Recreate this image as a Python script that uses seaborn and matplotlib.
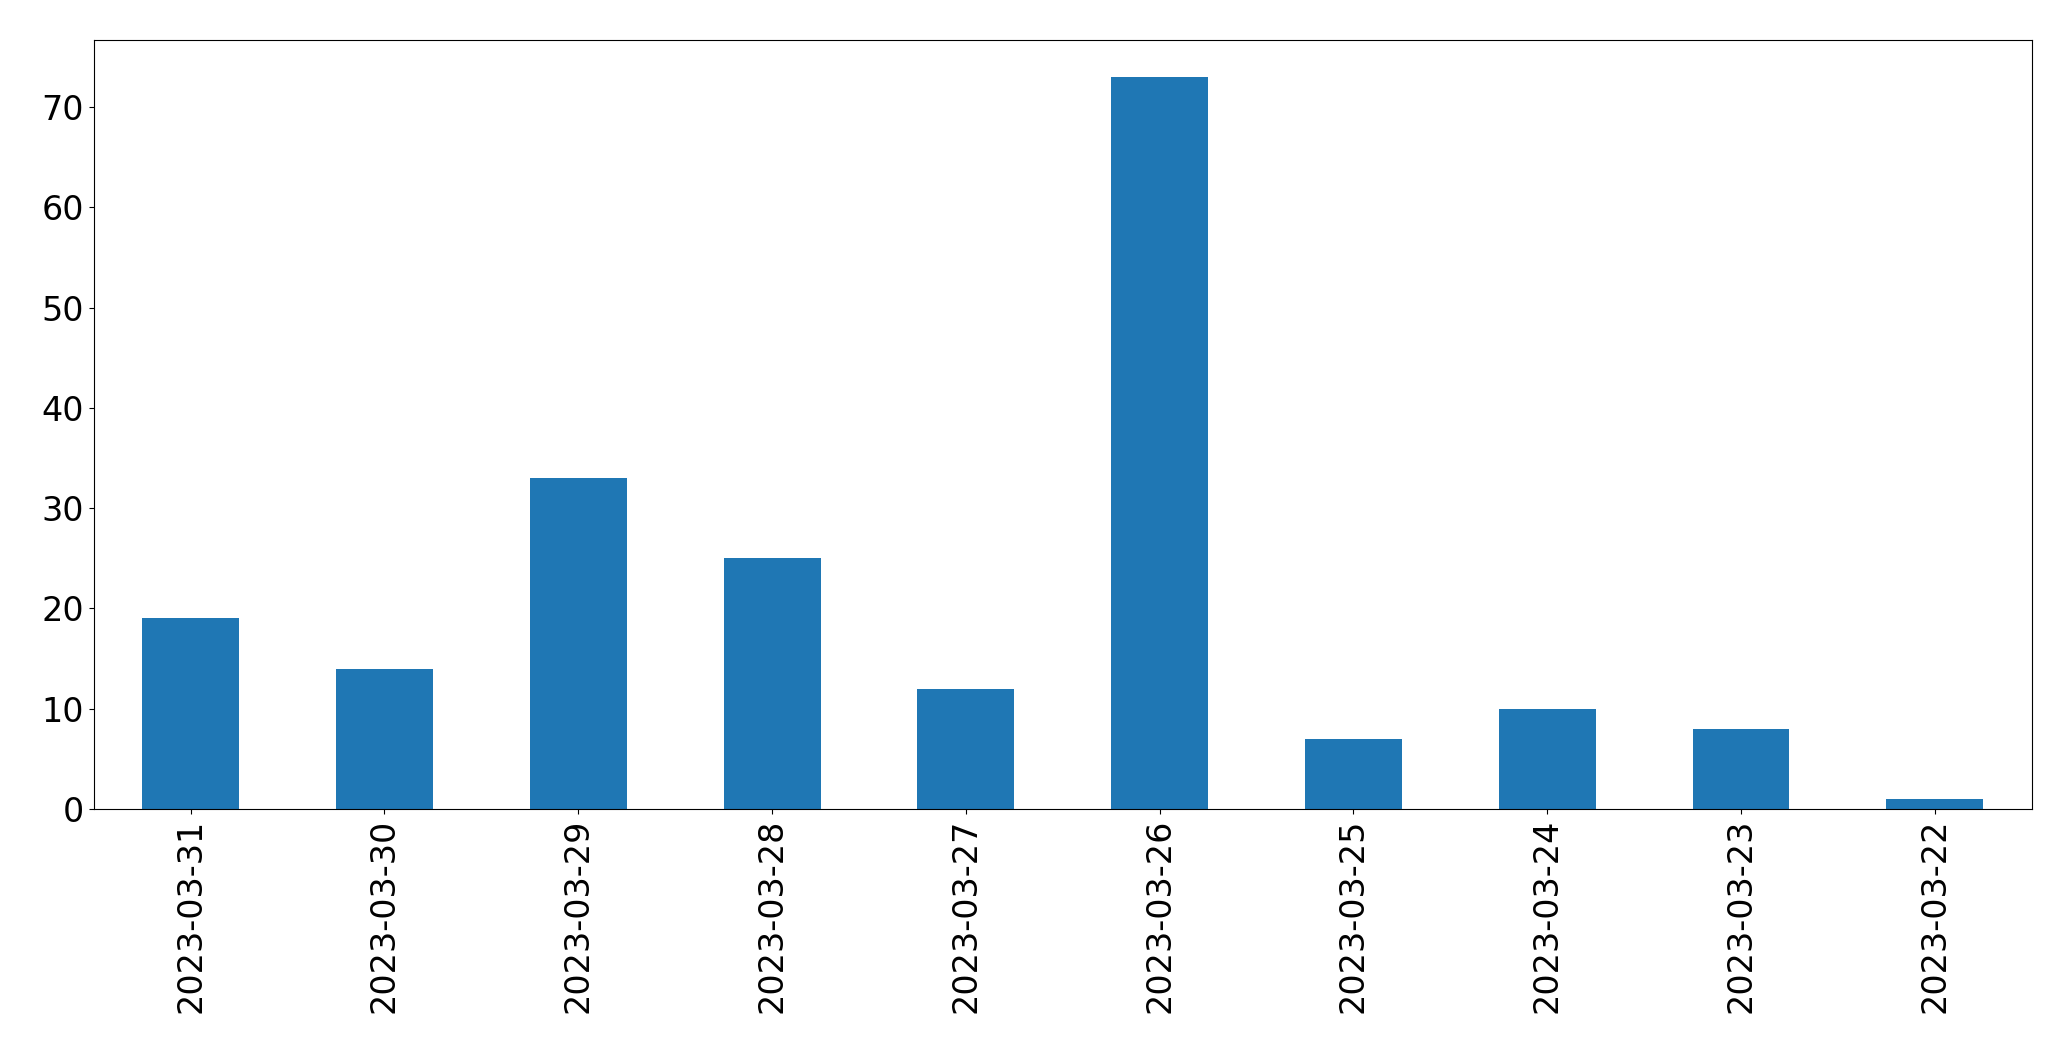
import matplotlib
matplotlib.use('agg')
import matplotlib.pyplot as plt
import seaborn as sns
import pandas as pd

dates = ['2023-03-31', '2023-03-30', '2023-03-29', '2023-03-28', '2023-03-27',
         '2023-03-26', '2023-03-25', '2023-03-24', '2023-03-23', '2023-03-22']
counts = [19, 14, 33, 25, 12, 73, 7, 10, 8, 1]

df = pd.DataFrame({'date': dates, 'count': counts})

fig, ax = plt.subplots(figsize=(20.71, 10.61), dpi=100)
fig.subplots_adjust(left=0.0453, right=0.981, top=0.962, bottom=0.2375)
sns.barplot(data=df, x='date', y='count', order=dates, color='#1f77b4',
            saturation=1, width=0.5, ax=ax)
ax.set_xlim(-0.5, len(dates) - 0.5)
ax.set_ylim(0, max(counts) * 1.05)
ax.set_xlabel('')
ax.set_ylabel('')
ax.tick_params(axis='x', labelrotation=90, labelsize=24)
ax.tick_params(axis='y', labelsize=24)
plt.savefig('out.png')
